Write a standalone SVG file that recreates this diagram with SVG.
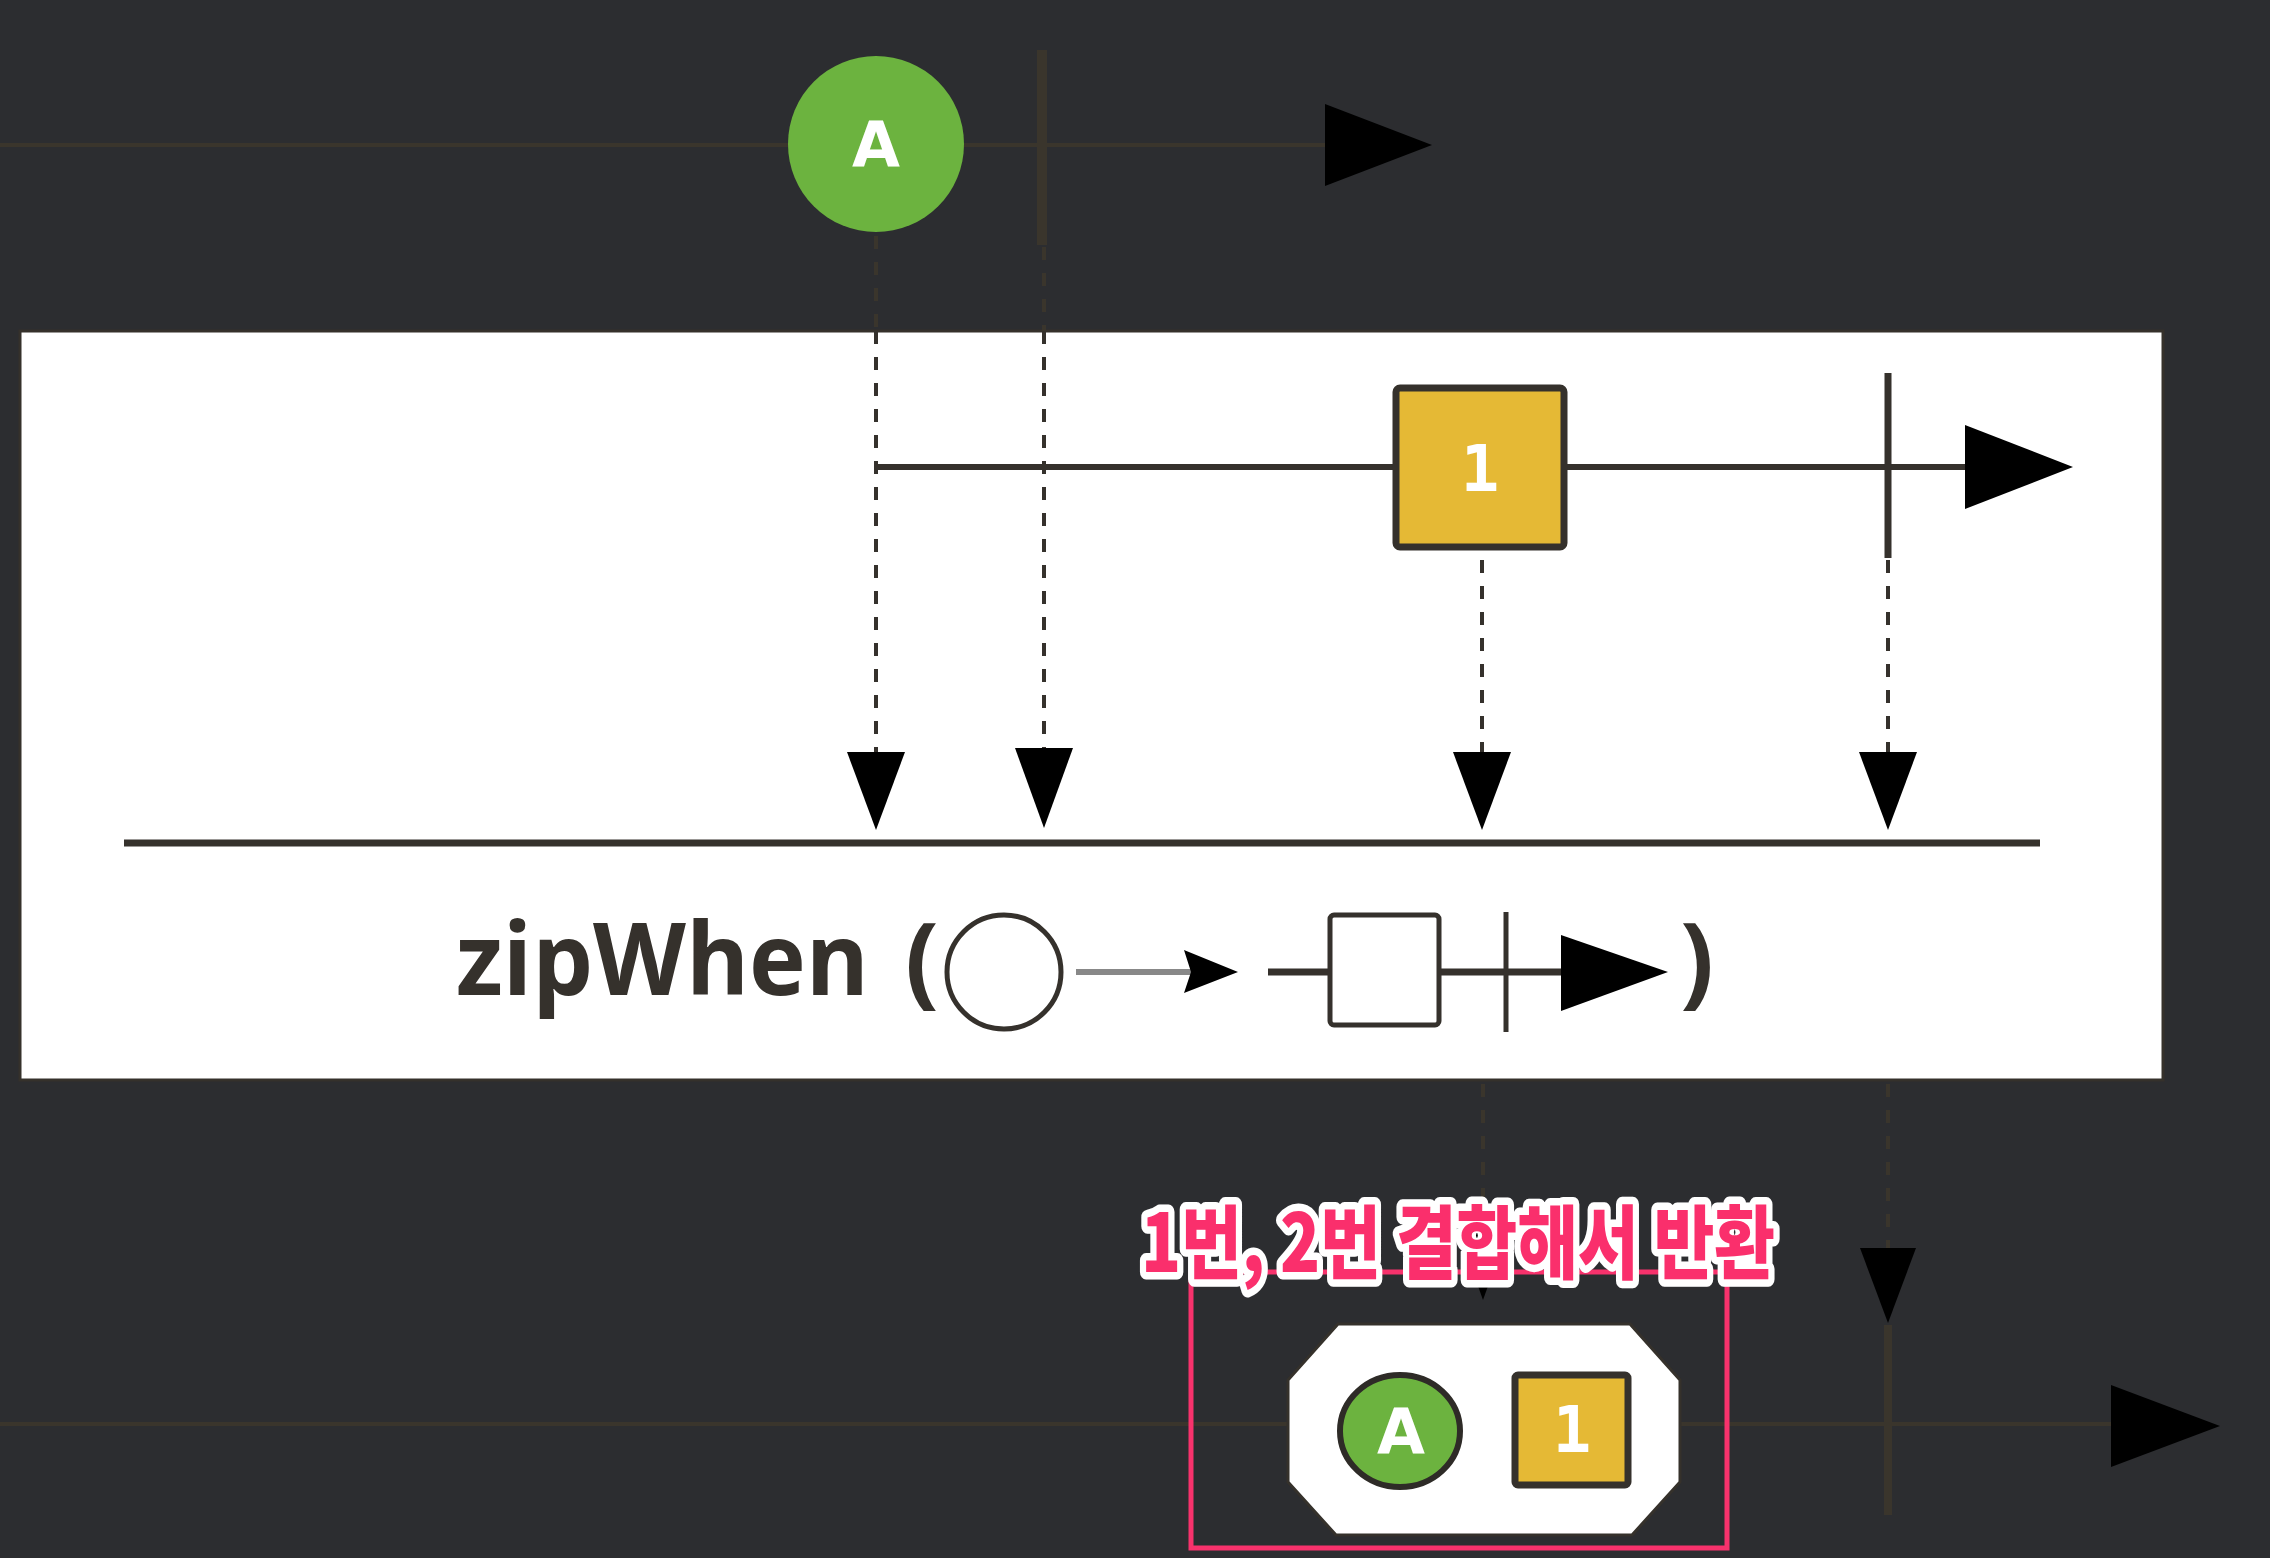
<svg xmlns="http://www.w3.org/2000/svg" width="2270" height="1558" viewBox="0 0 2270 1558">
<style>
.faint{stroke:#3a352c;fill:none}
.dk{stroke:#35312c;fill:none}
.dash{stroke-dasharray:13 13;stroke-width:4}
.lbl{font-family:"DejaVu Sans Mono",monospace;font-weight:bold;font-size:64px;fill:#ffffff;text-anchor:middle}
.lblA{font-family:"DejaVu Sans",sans-serif;font-weight:bold;font-size:62px;fill:#ffffff;text-anchor:middle}
.op{font-family:"Open Sans","DejaVu Sans",sans-serif;font-weight:bold;font-size:100px;fill:#35312c}
</style>
<rect x="0" y="0" width="2270" height="1558" fill="#2c2d30"/>

<g id="source-timeline">
<line class="faint" x1="0" y1="145" x2="1330" y2="145" stroke-width="4"/>
<polygon points="1325,104 1432,145 1325,186" fill="#000"/>
<line class="faint" x1="1042" y1="50" x2="1042" y2="245" stroke-width="10"/>
</g>
<g id="node-A-top">
<circle cx="876" cy="144" r="88" fill="#6cb33f"/>
<text class="lblA" x="876" y="166">A</text>
</g>

<g id="operator-box">
<rect x="20" y="331" width="2143" height="749" fill="#ffffff" stroke="#35312b" stroke-width="3"/>
</g>

<g id="inner-timeline">
<line class="dk" x1="876" y1="467" x2="1970" y2="467" stroke-width="6"/>
<polygon points="1965,425 2073,467 1965,509" fill="#000"/>
<line class="dk" x1="1888" y1="373" x2="1888" y2="558" stroke-width="7"/>
</g>
<g id="node-1-inner">
<rect x="1396" y="388" width="168" height="159" rx="4" fill="#e5b935" stroke="#35312c" stroke-width="7"/>
<text class="lbl" x="1480" y="491">1</text>
</g>

<g id="connectors">
<line class="faint dash" x1="876" y1="236" x2="876" y2="331"/>
<line class="faint dash" x1="1044" y1="247" x2="1044" y2="331"/>
<line class="dk dash" x1="876" y1="331" x2="876" y2="760"/>
<line class="dk dash" x1="1044" y1="331" x2="1044" y2="756"/>
<line class="dk dash" x1="1482" y1="560" x2="1482" y2="760"/>
<line class="dk dash" x1="1888" y1="560" x2="1888" y2="760"/>
<polygon points="847,752 905,752 876,830" fill="#000"/>
<polygon points="1015,748 1073,748 1044,828" fill="#000"/>
<polygon points="1453,752 1511,752 1482,830" fill="#000"/>
<polygon points="1859,752 1917,752 1888,830" fill="#000"/>
<line class="faint dash" x1="1483" y1="1084" x2="1483" y2="1230"/>
<line class="faint dash" x1="1888" y1="1084" x2="1888" y2="1250"/>
<polygon points="1455,1222 1511,1222 1483,1300" fill="#000"/>
<polygon points="1860,1248 1916,1248 1888,1323" fill="#000"/>
</g>

<g id="operator-line">
<line class="dk" x1="124" y1="843" x2="2040" y2="843" stroke-width="7"/>
</g>

<g id="operator-label">
<text class="op" x="456" y="995" textLength="413" lengthAdjust="spacingAndGlyphs">zipWhen</text>
<text class="op" x="905" y="995">(</text>
<ellipse cx="1004" cy="972" rx="57" ry="57" fill="#fff" stroke="#35312c" stroke-width="5"/>
<line x1="1076" y1="972" x2="1195" y2="972" stroke="#888888" stroke-width="6"/>
<polygon points="1184,950 1238,972 1184,993 1191,972" fill="#000"/>
<line class="dk" x1="1268" y1="972" x2="1565" y2="972" stroke-width="7"/>
<rect x="1330" y="915" width="109" height="110" rx="4" fill="#fff" stroke="#35312c" stroke-width="5"/>
<line class="dk" x1="1506" y1="912" x2="1506" y2="1032" stroke-width="5"/>
<polygon points="1561,935 1668,972 1561,1011" fill="#000"/>
<text class="op" x="1680" y="995">)</text>
</g>

<g id="result-timeline">
<line class="faint" x1="0" y1="1424" x2="2115" y2="1424" stroke-width="4"/>
<polygon points="2111,1385 2220,1426 2111,1467" fill="#000"/>
<line class="faint" x1="1888" y1="1325" x2="1888" y2="1515" stroke-width="8"/>
</g>

<g id="node-result">
<polygon points="1338,1324 1630,1324 1680,1380 1680,1482 1632,1535 1336,1535 1288,1482 1288,1380" fill="#ffffff" stroke="#35312b" stroke-width="3"/>
<ellipse cx="1400" cy="1431" rx="60" ry="56" fill="#6cb33f" stroke="#2e2b27" stroke-width="6"/>
<text class="lblA" x="1401" y="1453">A</text>
<rect x="1515" y="1375" width="113" height="110" rx="3" fill="#e5b935" stroke="#35312c" stroke-width="7"/>
<text class="lbl" x="1572" y="1452">1</text>
</g>

<g id="annotation">
<rect x="1191" y="1272" width="536" height="276" fill="none" stroke="#f8326c" stroke-width="5"/>
<text x="1141" y="1272" textLength="634" lengthAdjust="spacingAndGlyphs" font-family="'Noto Sans CJK KR',sans-serif" font-weight="900" font-size="80" fill="#fa2f6c" stroke="#ffffff" stroke-width="15" stroke-linejoin="round" paint-order="stroke">1번, 2번 결합해서 반환</text>
</g>
</svg>
